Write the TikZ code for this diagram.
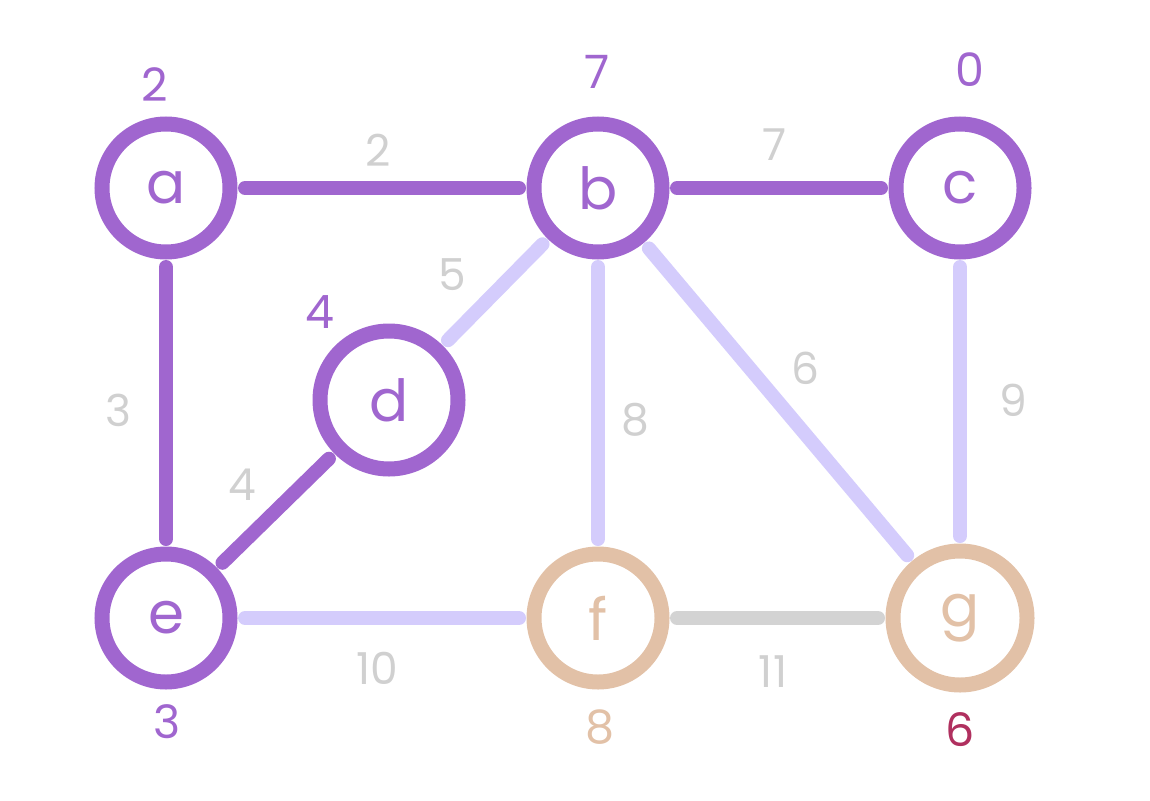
\documentclass[tikz,border=0pt]{standalone}
\usepackage{fontspec}
\setmainfont{Poppins}
\definecolor{vpurple}{HTML}{A066CF}
\definecolor{vlav}{HTML}{D4CCFC}
\definecolor{vgray}{HTML}{D3D3D3}
\definecolor{vtan}{HTML}{E2C1A7}
\definecolor{vred}{HTML}{B0305F}
\definecolor{vlabel}{HTML}{D0D0D0}
\tikzset{
  vert/.style={circle, draw=#1, text=#1, line width=15pt, minimum size=128pt, inner sep=0pt, outer sep=0pt, font=\fontsize{58}{60}\selectfont},
  wlab/.style={text=#1, font=\fontsize{46}{48}\selectfont, inner sep=0pt},
  elab/.style={text=vlabel, font=\fontsize{44}{46}\selectfont, inner sep=0pt},
  edge/.style={draw=#1, line width=14pt, line cap=round, shorten <=15pt, shorten >=15pt}
}
\begin{document}
\begin{tikzpicture}[x=1pt,y=-1pt]
\useasboundingbox (0,0) rectangle (1150,800);
\node[vert=vpurple] (a) at (166,188) {a};
\node[vert=vpurple] (b) at (598,188) {b};
\node[vert=vpurple] (c) at (960,188) {c};
\node[vert=vpurple, minimum size=138pt] (d) at (389,400) {d};
\node[vert=vpurple] (e) at (166,618) {e};
\node[vert=vtan] (f) at (598,618) {f};
\node[vert=vtan, minimum size=134pt] (g) at (960,618) {g};
% vertex weights
\node[wlab=vpurple] (wa) at (155,85) {2};
\node[wlab=vpurple] (wb) at (597,72) {7};
\node[wlab=vpurple] (wc) at (970,70) {0};
\node[wlab=vpurple] (wd) at (320,312) {4};
\node[wlab=vpurple] (we) at (167,722) {3};
\node[wlab=vtan] (wf) at (600,727) {8};
\node[wlab=vred] (wg) at (960,730) {6};
% edges
\draw[edge=vpurple] (a) -- (b);
\draw[edge=vpurple] (b) -- (c);
\draw[edge=vpurple] (a) -- (e);
\draw[edge=vpurple] (e) -- (d);
\draw[edge=vlav] (d) -- (b);
\draw[edge=vlav] (b) -- (f);
\draw[edge=vlav] (b) -- (g);
\draw[edge=vlav] (c) -- (g);
\draw[edge=vlav] (e) -- (f);
\draw[edge=vgray] (f) -- (g);
% edge labels
\node[elab] (lab) at (378,150) {2};
\node[elab] (lbc) at (775,145) {7};
\node[elab] (ldb) at (452,275) {5};
\node[elab] (lae) at (118,410) {3};
\node[elab] (led) at (242,485) {4};
\node[elab] (lbf) at (635,420) {8};
\node[elab] (lbg) at (805,368) {6};
\node[elab] (lcg) at (1013,400) {9};
\node[elab] (lef) at (377,668) {10};
\node[elab] (lfg) at (773,672) {11};
\end{tikzpicture}
\end{document}
